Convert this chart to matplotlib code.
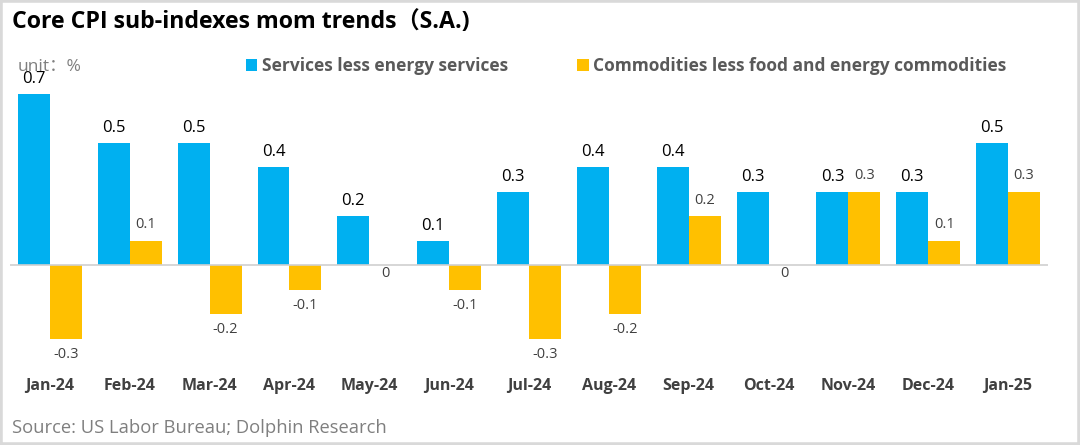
import matplotlib.pyplot as plt
import numpy as np
from matplotlib.patches import Rectangle

months = ["Jan-24", "Feb-24", "Mar-24", "Apr-24", "May-24", "Jun-24", "Jul-24",
          "Aug-24", "Sep-24", "Oct-24", "Nov-24", "Dec-24", "Jan-25"]
services = [0.7, 0.5, 0.5, 0.4, 0.2, 0.1, 0.3, 0.4, 0.4, 0.3, 0.3, 0.3, 0.5]
commodities = [-0.3, 0.1, -0.2, -0.1, 0, -0.1, -0.3, -0.2, 0.2, 0, 0.3, 0.1, 0.3]

blue = "#00B0F0"
orange = "#FFC000"

plt.rcParams['font.family'] = ['Open Sans', 'Noto Sans CJK SC', 'DejaVu Sans']

fig = plt.figure(figsize=(10.8, 4.45), dpi=100)
# zero line sits at ~265px, 0.1 -> ~24.5px
ax = fig.add_axes([10/1080, 1 - 375.25/445, 1038/1080, 318.5/445])

x = np.arange(len(months))
w = 0.40
b1 = ax.bar(x - w/2, services, w, color=blue, label="Services less energy services")
b2 = ax.bar(x + w/2, commodities, w, color=orange,
            label="Commodities less food and energy commodities")

ax.bar_label(b1, labels=["%g" % v for v in services], padding=5,
             fontsize=12, color="black")
ax.bar_label(b2, labels=["" if v == 0 else "%g" % v for v in commodities],
             padding=6, fontsize=10.5, color="#404040")
for xi, v in zip(x, commodities):
    if v == 0:
        ax.annotate("0", (xi + w/2, 0), xytext=(0, -1), textcoords="offset points",
                    ha="center", va="top", fontsize=10.5, color="#404040")

ax.axhline(0, color="#d0d0d0", lw=1.2)
ax.set_xlim(-0.5, 12.5)
ax.set_ylim(-0.45, 0.85)
ax.set_xticks(x)
ax.set_xticklabels(months, fontsize=11.5, fontweight="bold", color="#404040")
ax.tick_params(axis="x", length=0, pad=2)
ax.set_yticks([])
for s in ax.spines.values():
    s.set_visible(False)

fig.text(12/1080, 1 - 22/445, "Core CPI sub-indexes mom trends（S.A.)",
         fontsize=16.7, fontweight="bold", va="center", ha="left", color="black")
fig.text(18/1080, 1 - 67/445, "unit：%", fontsize=12.5, color="#7f7f7f",
         va="center", ha="left")
fig.text(12/1080, 1 - 428/445, "Source: US Labor Bureau; Dolphin Research",
         fontsize=13.2, color="#7f7f7f", va="center", ha="left")

ax.legend(loc="upper left", bbox_to_anchor=(234/1080, 1 - 45/445),
          bbox_transform=fig.transFigure, ncol=2, frameon=False,
          handlelength=0.65, handleheight=0.65, handletextpad=0.25,
          columnspacing=4.0, prop={"size": 12.5, "weight": "bold"},
          labelcolor="#595959", borderpad=0.2)

fig.patches.append(Rectangle((0, 0), 1, 1, transform=fig.transFigure,
                             fill=False, edgecolor="#d9d9d9", lw=4))

fig.savefig("out.png", dpi=100)
